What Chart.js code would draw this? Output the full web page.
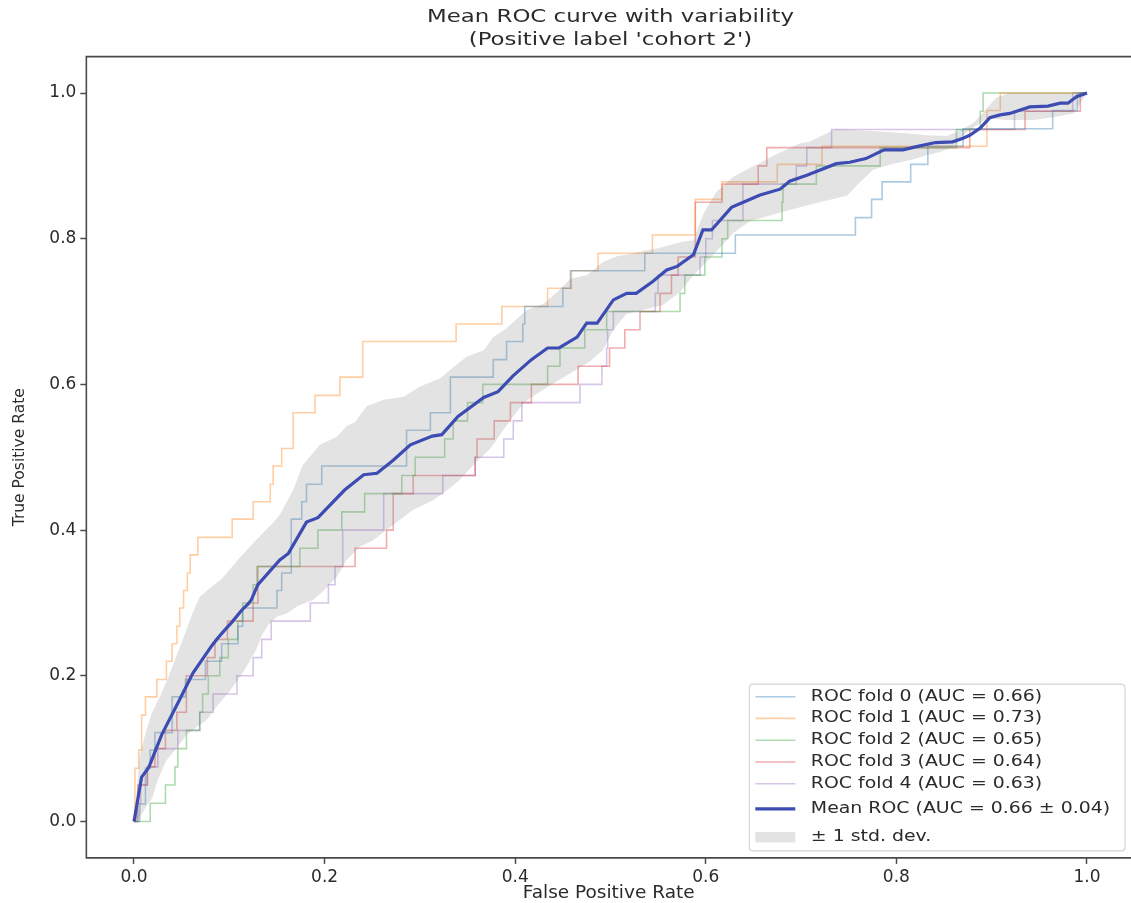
<!DOCTYPE html>
<html>
<head>
<meta charset="utf-8">
<script src="https://cdn.jsdelivr.net/npm/chart.js@4.4.1/dist/chart.umd.min.js"></script>
<style>
html, body { margin: 0; padding: 0; background: #ffffff; }
canvas { display: block; }
</style>
</head>
<body>
<canvas id="roc" width="1131" height="903"></canvas>
<script>
// ---------------- data ----------------
const titleLines = ["Mean ROC curve with variability", "(Positive label 'cohort 2')"];
const xAxisLabel = "False Positive Rate";
const yAxisLabel = "True Positive Rate";
const tickValues = [0.0, 0.2, 0.4, 0.6, 0.8, 1.0];

const foldLabels = [
  "ROC fold 0 (AUC = 0.66)",
  "ROC fold 1 (AUC = 0.73)",
  "ROC fold 2 (AUC = 0.65)",
  "ROC fold 3 (AUC = 0.64)",
  "ROC fold 4 (AUC = 0.63)"
];
const meanLabel = "Mean ROC (AUC = 0.66 \u00b1 0.04)";
const stdLabel = "\u00b1 1 std. dev.";

// step-curve corner points (top of each vertical jump)
const fold0Fpr = [0, 0.006, 0.012, 0.017, 0.022, 0.040, 0.054, 0.075, 0.092, 0.109, 0.114, 0.150, 0.155, 0.165, 0.176, 0.181, 0.197, 0.286, 0.311, 0.332, 0.377, 0.391, 0.408, 0.410, 0.450, 0.458, 0.536, 0.631, 0.757, 0.774, 0.785, 0.815, 0.833, 0.870, 0.964, 0.990, 1.0];
const fold0Tpr = [0, 0.024, 0.073, 0.098, 0.122, 0.171, 0.195, 0.220, 0.244, 0.268, 0.293, 0.317, 0.341, 0.415, 0.439, 0.463, 0.488, 0.537, 0.561, 0.610, 0.634, 0.659, 0.683, 0.707, 0.732, 0.756, 0.780, 0.805, 0.829, 0.854, 0.878, 0.902, 0.927, 0.951, 0.976, 1.0, 1.0];

const fold1Fpr = [0, 0.001, 0.005, 0.008, 0.012, 0.024, 0.034, 0.040, 0.045, 0.048, 0.052, 0.056, 0.059, 0.067, 0.103, 0.125, 0.143, 0.146, 0.155, 0.167, 0.190, 0.216, 0.240, 0.338, 0.386, 0.434, 0.459, 0.487, 0.544, 0.589, 0.617, 0.675, 0.722, 0.895, 0.909, 1.0];
const fold1Tpr = [0, 0.073, 0.098, 0.146, 0.171, 0.195, 0.220, 0.244, 0.268, 0.293, 0.317, 0.341, 0.366, 0.390, 0.415, 0.439, 0.463, 0.488, 0.512, 0.561, 0.585, 0.610, 0.659, 0.683, 0.707, 0.732, 0.756, 0.780, 0.805, 0.854, 0.878, 0.902, 0.927, 0.976, 1.0, 1.0];

const fold2Fpr = [0, 0.017, 0.033, 0.043, 0.046, 0.055, 0.069, 0.072, 0.078, 0.090, 0.099, 0.109, 0.114, 0.125, 0.129, 0.174, 0.193, 0.218, 0.242, 0.281, 0.295, 0.326, 0.335, 0.350, 0.366, 0.434, 0.447, 0.473, 0.496, 0.573, 0.578, 0.599, 0.617, 0.623, 0.680, 0.681, 0.716, 0.783, 0.863, 0.888, 0.891, 1.0];
const fold2Tpr = [0, 0.025, 0.05, 0.075, 0.1, 0.125, 0.15, 0.175, 0.2, 0.225, 0.25, 0.275, 0.3, 0.325, 0.35, 0.375, 0.4, 0.425, 0.45, 0.475, 0.5, 0.525, 0.55, 0.575, 0.6, 0.625, 0.65, 0.675, 0.7, 0.725, 0.75, 0.775, 0.8, 0.825, 0.85, 0.875, 0.9, 0.925, 0.95, 0.975, 1.0, 1.0];

const fold3Fpr = [0, 0.004, 0.014, 0.022, 0.033, 0.045, 0.055, 0.077, 0.085, 0.098, 0.125, 0.130, 0.232, 0.265, 0.272, 0.293, 0.358, 0.360, 0.378, 0.395, 0.417, 0.466, 0.499, 0.515, 0.531, 0.552, 0.564, 0.571, 0.589, 0.617, 0.655, 0.664, 0.877, 0.935, 0.993, 1.0];
const fold3Tpr = [0, 0.05, 0.075, 0.1, 0.125, 0.15, 0.2, 0.225, 0.25, 0.275, 0.3, 0.35, 0.375, 0.4, 0.45, 0.475, 0.5, 0.525, 0.55, 0.575, 0.6, 0.625, 0.65, 0.675, 0.7, 0.725, 0.75, 0.775, 0.85, 0.875, 0.9, 0.925, 0.95, 0.975, 1.0, 1.0];

const fold4Fpr = [0, 0.003, 0.007, 0.014, 0.025, 0.046, 0.069, 0.083, 0.108, 0.125, 0.134, 0.144, 0.185, 0.204, 0.211, 0.219, 0.262, 0.324, 0.358, 0.388, 0.398, 0.407, 0.468, 0.491, 0.496, 0.497, 0.503, 0.547, 0.550, 0.594, 0.600, 0.607, 0.639, 0.695, 0.706, 0.732, 0.924, 0.985, 1.0];
const fold4Tpr = [0, 0.025, 0.05, 0.075, 0.1, 0.125, 0.15, 0.175, 0.2, 0.225, 0.25, 0.275, 0.3, 0.325, 0.35, 0.4, 0.45, 0.475, 0.5, 0.525, 0.55, 0.575, 0.6, 0.625, 0.65, 0.675, 0.7, 0.725, 0.75, 0.775, 0.8, 0.825, 0.875, 0.9, 0.925, 0.95, 0.975, 1.0, 1.0];

const meanFpr = [0, 0.008, 0.015, 0.017, 0.029, 0.045, 0.062, 0.082, 0.088, 0.094, 0.103, 0.113, 0.120, 0.123, 0.130, 0.153, 0.162, 0.181, 0.193, 0.221, 0.241, 0.255, 0.272, 0.290, 0.313, 0.323, 0.340, 0.367, 0.382, 0.398, 0.417, 0.434, 0.446, 0.465, 0.475, 0.486, 0.503, 0.517, 0.527, 0.544, 0.559, 0.570, 0.587, 0.597, 0.606, 0.627, 0.643, 0.657, 0.678, 0.688, 0.706, 0.737, 0.751, 0.768, 0.787, 0.807, 0.820, 0.841, 0.859, 0.870, 0.877, 0.888, 0.898, 0.909, 0.919, 0.940, 0.959, 0.972, 0.980, 0.989, 1.0];
const meanTpr = [0, 0.061, 0.073, 0.079, 0.119, 0.160, 0.204, 0.242, 0.252, 0.261, 0.274, 0.290, 0.299, 0.304, 0.325, 0.359, 0.368, 0.411, 0.417, 0.455, 0.476, 0.478, 0.496, 0.517, 0.529, 0.531, 0.556, 0.582, 0.590, 0.612, 0.634, 0.650, 0.650, 0.665, 0.684, 0.684, 0.716, 0.725, 0.725, 0.741, 0.757, 0.762, 0.778, 0.812, 0.812, 0.843, 0.852, 0.860, 0.868, 0.879, 0.887, 0.903, 0.905, 0.910, 0.922, 0.922, 0.926, 0.932, 0.933, 0.938, 0.942, 0.952, 0.966, 0.970, 0.972, 0.981, 0.982, 0.986, 0.986, 0.995, 1.0];

const stdUpperFpr = [0, 0.006, 0.012, 0.019, 0.027, 0.036, 0.043, 0.055, 0.062, 0.069, 0.080, 0.092, 0.101, 0.111, 0.125, 0.136, 0.146, 0.153, 0.167, 0.177, 0.195, 0.213, 0.223, 0.232, 0.244, 0.262, 0.283, 0.300, 0.321, 0.332, 0.349, 0.367, 0.377, 0.391, 0.412, 0.429, 0.445, 0.458, 0.475, 0.492, 0.507, 0.524, 0.534, 0.550, 0.562, 0.576, 0.587, 0.597, 0.611, 0.629, 0.643, 0.657, 0.674, 0.699, 0.709, 0.723, 0.737, 0.758, 0.786, 0.807, 0.832, 0.853, 0.867, 0.881, 0.895, 0.905, 0.919, 1.0];
const stdUpperTpr = [0, 0.089, 0.121, 0.150, 0.171, 0.198, 0.222, 0.263, 0.288, 0.308, 0.321, 0.333, 0.347, 0.362, 0.382, 0.397, 0.410, 0.421, 0.455, 0.489, 0.517, 0.528, 0.543, 0.548, 0.570, 0.579, 0.583, 0.597, 0.608, 0.620, 0.638, 0.647, 0.665, 0.677, 0.702, 0.710, 0.728, 0.745, 0.750, 0.768, 0.776, 0.780, 0.783, 0.787, 0.791, 0.796, 0.798, 0.833, 0.864, 0.885, 0.895, 0.904, 0.916, 0.931, 0.933, 0.942, 0.951, 0.949, 0.947, 0.945, 0.942, 0.941, 0.949, 0.959, 0.979, 0.994, 1.0, 1.0];

const stdLowerFpr = [0, 0.004, 0.013, 0.019, 0.025, 0.034, 0.045, 0.055, 0.066, 0.076, 0.088, 0.100, 0.116, 0.128, 0.134, 0.141, 0.150, 0.161, 0.172, 0.188, 0.200, 0.213, 0.223, 0.237, 0.251, 0.265, 0.276, 0.293, 0.314, 0.332, 0.342, 0.358, 0.374, 0.395, 0.410, 0.426, 0.450, 0.478, 0.492, 0.503, 0.517, 0.531, 0.555, 0.573, 0.587, 0.608, 0.629, 0.646, 0.681, 0.716, 0.748, 0.762, 0.776, 0.797, 0.818, 0.832, 0.846, 0.860, 0.874, 0.895, 0.916, 0.944, 0.965, 0.986, 1.0];
const stdLowerTpr = [0, 0.002, 0.021, 0.032, 0.057, 0.084, 0.101, 0.119, 0.130, 0.139, 0.160, 0.178, 0.208, 0.235, 0.255, 0.270, 0.281, 0.286, 0.296, 0.304, 0.318, 0.336, 0.359, 0.377, 0.386, 0.400, 0.411, 0.428, 0.441, 0.458, 0.469, 0.492, 0.512, 0.551, 0.576, 0.590, 0.609, 0.631, 0.647, 0.675, 0.697, 0.701, 0.709, 0.727, 0.750, 0.778, 0.808, 0.824, 0.837, 0.849, 0.859, 0.878, 0.895, 0.903, 0.909, 0.915, 0.919, 0.926, 0.947, 0.965, 0.963, 0.963, 0.967, 0.972, 1.0];

// axis limits: the reference picture is cut at the right, just before x = 1.05
const xMin = -0.05, xMax = 1.0462, xFrameEnd = 1.05;
const yMin = -0.05, yMax = 1.05;

// ---------------- styles ----------------
const foldColors = [
  "rgba(31,119,180,0.38)",
  "rgba(255,127,14,0.38)",
  "rgba(44,160,44,0.38)",
  "rgba(214,39,40,0.38)",
  "rgba(148,103,189,0.38)"
];
const meanColor = "rgb(61,76,178)";
const bandColor = "rgba(128,128,128,0.22)";
const textColor = "#2b2b2b";
const FONT = "'DejaVu Sans', 'Noto Sans', sans-serif";

function toPoints(xs, ys) { return xs.map((x, i) => ({ x: x, y: ys[i] })); }

const foldFprs = [fold0Fpr, fold1Fpr, fold2Fpr, fold3Fpr, fold4Fpr];
const foldTprs = [fold0Tpr, fold1Tpr, fold2Tpr, fold3Tpr, fold4Tpr];

const datasets = foldLabels.map((label, i) => ({
  label: label,
  data: toPoints(foldFprs[i], foldTprs[i]),
  showLine: true,
  stepped: "before",
  borderColor: foldColors[i],
  backgroundColor: foldColors[i],
  borderWidth: 1.6,
  pointRadius: 0,
  pointHoverRadius: 0,
  fill: false,
  order: 2
}));

datasets.push({
  label: meanLabel,
  data: toPoints(meanFpr, meanTpr),
  showLine: true,
  borderColor: meanColor,
  backgroundColor: meanColor,
  borderWidth: 3.2,
  pointRadius: 0,
  pointHoverRadius: 0,
  fill: false,
  tension: 0,
  order: 0
});

const bandPoints = toPoints(stdUpperFpr, stdUpperTpr).concat(toPoints(stdLowerFpr, stdLowerTpr).reverse());
datasets.push({
  label: stdLabel,
  data: bandPoints,
  showLine: true,
  borderColor: "rgba(0,0,0,0)",
  backgroundColor: bandColor,
  borderWidth: 0,
  pointRadius: 0,
  pointHoverRadius: 0,
  fill: "shape",
  order: 1
});

// ---------------- helper drawing ----------------
function stretchedText(ctx, text, x, y, sx, align) {
  ctx.save();
  ctx.translate(x, y);
  ctx.scale(sx, 1);
  ctx.textAlign = align;
  ctx.textBaseline = "middle";
  ctx.fillText(text, 0, 0);
  ctx.restore();
}

const framePlugin = {
  id: "frame",
  afterDatasetsDraw(chart) {
    const ca = chart.chartArea, ctx = chart.ctx;
    ctx.save();
    ctx.strokeStyle = "#4a4a4a";
    ctx.lineWidth = 1.6;
    ctx.beginPath();
    ctx.moveTo(ca.right + 5, ca.top);
    ctx.lineTo(ca.left, ca.top);
    ctx.lineTo(ca.left, ca.bottom);
    ctx.lineTo(ca.right + 5, ca.bottom);
    ctx.stroke();
    ctx.restore();
  }
};

const titlePlugin = {
  id: "stretchTitle",
  afterDraw(chart) {
    const ctx = chart.ctx, xs = chart.scales.x;
    const cx = (xs.getPixelForValue(xMin) + xs.getPixelForValue(xFrameEnd)) / 2;
    ctx.save();
    ctx.fillStyle = textColor;
    ctx.font = "18px " + FONT;
    stretchedText(ctx, titleLines[0], cx, 17.5, 1.27, "center");
    stretchedText(ctx, titleLines[1], cx, 40.5, 1.27, "center");
    ctx.restore();
  }
};

const legendPlugin = {
  id: "insideLegend",
  afterDraw(chart) {
    const ca = chart.chartArea, ctx = chart.ctx, xs = chart.scales.x;
    const right = xs.getPixelForValue(xFrameEnd) - 9.6, bottom = ca.bottom - 7;
    const w = 375.7, h = 166.7;
    const left = right - w, top = bottom - h;
    ctx.save();
    ctx.beginPath();
    const r = 4;
    ctx.moveTo(left + r, top);
    ctx.lineTo(right - r, top); ctx.quadraticCurveTo(right, top, right, top + r);
    ctx.lineTo(right, bottom - r); ctx.quadraticCurveTo(right, bottom, right - r, bottom);
    ctx.lineTo(left + r, bottom); ctx.quadraticCurveTo(left, bottom, left, bottom - r);
    ctx.lineTo(left, top + r); ctx.quadraticCurveTo(left, top, left + r, top);
    ctx.closePath();
    ctx.fillStyle = "rgba(255,255,255,0.85)";
    ctx.fill();
    ctx.strokeStyle = "#d4d4d4";
    ctx.lineWidth = 1.2;
    ctx.stroke();

    const rows = [12.5, 34.2, 56, 77.8, 99.6, 124.6, 153];
    const ds = chart.data.datasets;
    ctx.font = "15px " + FONT;
    for (let i = 0; i < ds.length; i++) {
      const y = top + rows[i];
      const d = ds[i];
      if (d.fill === "shape") {
        ctx.fillStyle = d.backgroundColor;
        ctx.fillRect(left + 6, y - 5.2, 40, 10.4);
      } else {
        ctx.strokeStyle = d.borderColor;
        ctx.lineWidth = d.borderWidth;
        ctx.beginPath();
        ctx.moveTo(left + 6, y);
        ctx.lineTo(left + 46, y);
        ctx.stroke();
      }
      ctx.fillStyle = textColor;
      stretchedText(ctx, d.label, left + 61.5, y, 1.26, "left");
    }
    ctx.restore();
  }
};

// ---------------- chart ----------------
Chart.defaults.font.family = FONT;
Chart.defaults.color = textColor;

new Chart(document.getElementById("roc"), {
  type: "scatter",
  data: { datasets: datasets },
  options: {
    responsive: false,
    animation: false,
    devicePixelRatio: 1,
    layout: { padding: { left: 0, top: 56.6, right: 0, bottom: 0 } },
    plugins: {
      legend: { display: false },
      title: { display: false },
      tooltip: { enabled: false }
    },
    scales: {
      x: {
        type: "linear",
        min: xMin,
        max: xMax,
        afterBuildTicks: (s) => { s.ticks = tickValues.map(v => ({ value: v })); },
        afterFit: (s) => { s.height = 45.1; },
        ticks: {
          autoSkip: false, maxRotation: 0, padding: 3,
          color: textColor, font: { size: 17 },
          callback: (v) => Number(v).toFixed(1)
        },
        grid: { display: true, drawOnChartArea: false, drawTicks: true, tickLength: 6, tickColor: "#4a4a4a", tickWidth: 1.5 },
        border: { display: false },
        title: { display: true, text: xAxisLabel, color: textColor, font: { size: 18.5 }, padding: { top: 0, bottom: -1 } }
      },
      y: {
        type: "linear",
        min: yMin,
        max: yMax,
        afterBuildTicks: (s) => { s.ticks = tickValues.map(v => ({ value: v })); },
        afterFit: (s) => { s.width = 86.35; },
        ticks: {
          autoSkip: false, padding: 4,
          color: textColor, font: { size: 17 },
          callback: (v) => Number(v).toFixed(1)
        },
        grid: { display: true, drawOnChartArea: false, drawTicks: true, tickLength: 6, tickColor: "#4a4a4a", tickWidth: 1.5 },
        border: { display: false },
        title: { display: true, text: yAxisLabel, color: textColor, font: { size: 15.5 }, padding: { top: 11, bottom: 0 } }
      }
    }
  },
  plugins: [framePlugin, titlePlugin, legendPlugin]
});
</script>
</body>
</html>
